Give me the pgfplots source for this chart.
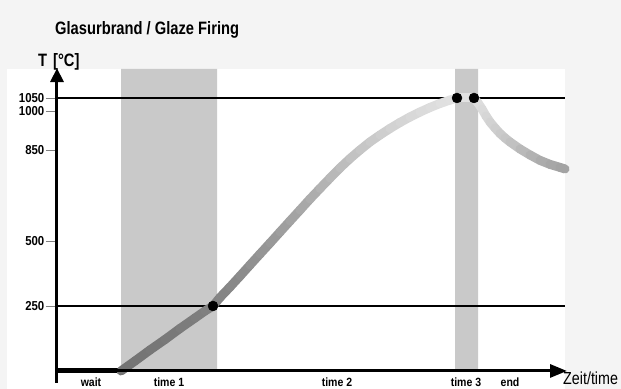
\documentclass[border=0pt]{standalone}
\usepackage{pgfplots}
\pgfplotsset{compat=1.18}
\usetikzlibrary{arrows.meta}
\usepackage{fontspec}
\setmainfont{Liberation Sans}
\newfontfamily\cond{Liberation Sans}[FakeStretch=0.88]
\newfontfamily\condt{Liberation Sans}[FakeStretch=0.82]
\definecolor{band}{RGB}{201,201,201}
\definecolor{bg}{RGB}{244,244,244}
\begin{document}
\begin{tikzpicture}
\begin{axis}[
 x=1bp, y=0.26bp,
 xmin=0, xmax=510, ymin=-46, ymax=1165,
 axis lines=middle,
 axis line style={line width=3bp, black},
 x axis line style={-{Triangle[length=17bp,width=13bp]}},
 y axis line style={-{Triangle[length=14bp,width=13bp]}},
 xtick=\empty,
 ytick={250,500,850,1000,1050},
 yticklabels={250,500,850,1000,1050},
 tick align=outside,
 major tick length=11bp,
 tick style={gray, line width=0.8bp},
 yticklabel style={font=\cond\bfseries\fontsize{13}{13}\selectfont, inner sep=1.5bp},
 clip=false,
 axis on top,
 colormap={grays}{gray(0cm)=(0); gray(1cm)=(1)},
 point meta min=0, point meta max=1,
]
\fill[bg] (axis cs:-57,-69.23) rectangle (axis cs:564,1426.9);
\fill[white] (axis cs:-50,-69.23) rectangle (axis cs:508,1161.5);
\coordinate (bl) at (axis cs:-57,-69.23);
\coordinate (tr) at (axis cs:564,1426.9);

\addplot[fill=band, draw=none] coordinates {(64,0) (64,1161.5) (160,1161.5) (160,0)} \closedcycle;
\addplot[fill=band, draw=none] coordinates {(398,0) (398,1161.5) (421,1161.5) (421,0)} \closedcycle;

\addplot[black, line width=1.6bp] coordinates {(0,1050) (508,1050)};
\addplot[black, line width=1.6bp] coordinates {(0,250) (508,250)};

\addplot[black, line width=5bp] coordinates {(0,0) (62,0)};

\addplot[mesh, point meta=explicit, line width=9bp, line cap=round, line join=round] table[meta=c] {
x y c
64 0 0.45
78 38.5 0.453
93 80.8 0.459
108 121 0.467
123 163.5 0.476
138 203.8 0.487
148 230.8 0.494
156 250 0.50
163 282.7 0.51
173 323 0.524
183 365 0.538
193 407.7 0.555
203 450 0.571
213 492 0.588
223 534.6 0.606
233 577 0.625
243 619 0.645
253 661.5 0.665
263 702 0.685
273 742 0.706
283 781 0.726
293 817 0.745
303 850 0.763
313 881 0.78
323 907.7 0.795
333 932.7 0.81
343 955.8 0.823
353 977 0.836
363 996 0.848
373 1013.5 0.858
383 1029 0.867
393 1042 0.875
400 1050 0.88
417 1050 0.88
421 1030.8 0.87
425 1007.7 0.855
429 980.8 0.84
433 957.7 0.825
438 934.6 0.81
443 913.5 0.795
448 896.2 0.78
453 880.8 0.765
463 853.8 0.735
473 830.8 0.705
483 810 0.68
493 794.6 0.66
503 783 0.64
508 777 0.63
};

\addplot[only marks, mark=*, mark size=5bp, black] coordinates {(156,250) (400,1050) (417,1050)};

\node[anchor=base west, inner sep=0, font=\condt\bfseries\fontsize{18}{18}\selectfont] at (axis cs:-2,1296) {Glasurbrand / Glaze Firing};
\node[anchor=base west, inner sep=0, font=\condt\bfseries\fontsize{18}{18}\selectfont] at (axis cs:-19,1173) {T\,\,[°C]};

\node[anchor=base, inner sep=0, font=\cond\bfseries\fontsize{12}{12}\selectfont] at (axis cs:34,-61.5) {wait};
\node[anchor=base, inner sep=0, font=\cond\bfseries\fontsize{12}{12}\selectfont] at (axis cs:112,-61.5) {time 1};
\node[anchor=base, inner sep=0, font=\cond\bfseries\fontsize{12}{12}\selectfont] at (axis cs:280,-61.5) {time 2};
\node[anchor=base, inner sep=0, font=\cond\bfseries\fontsize{12}{12}\selectfont] at (axis cs:409,-61.5) {time 3};
\node[anchor=base, inner sep=0, font=\cond\bfseries\fontsize{12}{12}\selectfont] at (axis cs:453,-61.5) {end};
\node[anchor=base west, inner sep=0, font=\condt\fontsize{17.5}{17.5}\selectfont] at (axis cs:506,-53.8) {Zeit/time};
\end{axis}
\pgfresetboundingbox
\useasboundingbox (bl) rectangle (tr);
\end{tikzpicture}
\end{document}
